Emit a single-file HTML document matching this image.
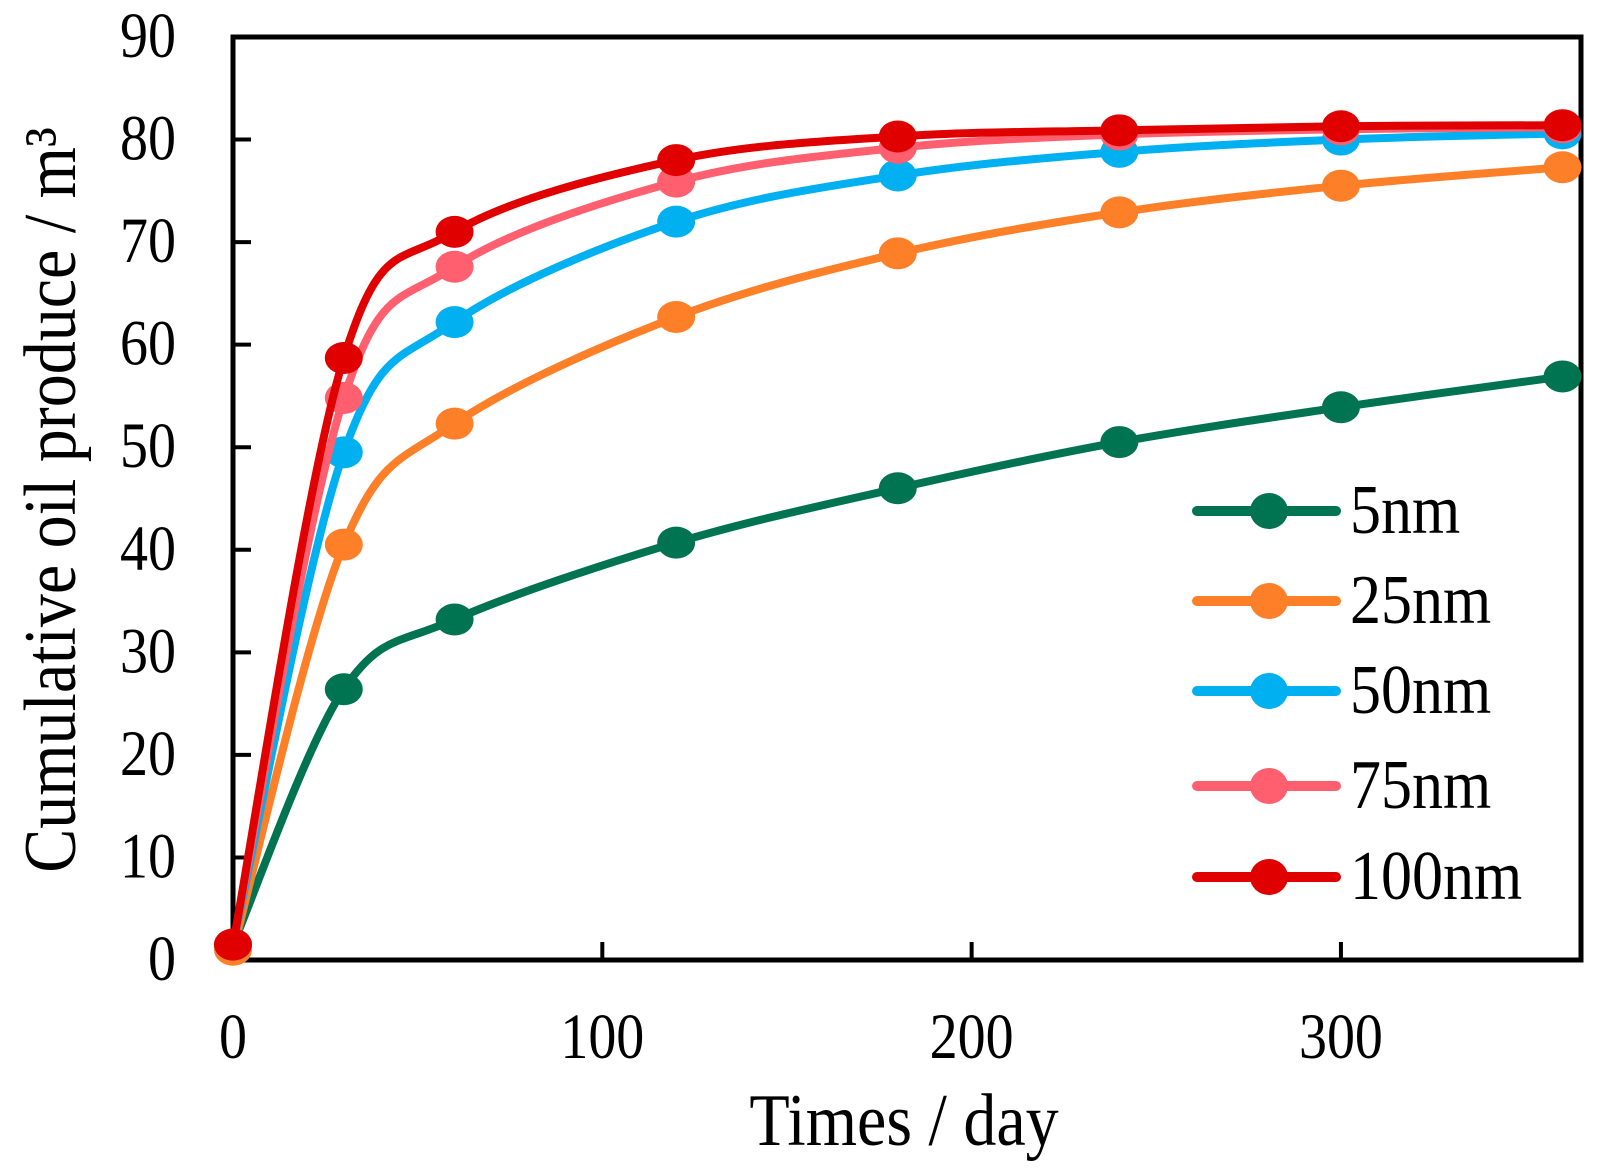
<!DOCTYPE html>
<html><head><meta charset="utf-8"><style>
html,body{margin:0;padding:0;background:#fff;}
svg{display:block;font-family:"Liberation Serif",serif;}
</style></head><body>
<svg id="chart" width="1610" height="1173" viewBox="0 0 1610 1173">
<g id="plot"></g>
</svg>
<script>
const days = [0, 30, 60, 120, 180, 240, 300, 360];
const seriesNames = ["5nm", "25nm", "50nm", "75nm", "100nm"];
const s5 = [1.5, 26.4, 33.2, 40.7, 46.0, 50.5, 53.9, 56.9];
const s25 = [1.0, 40.5, 52.3, 62.7, 68.9, 72.9, 75.5, 77.3];
const s50 = [1.5, 49.5, 62.2, 72.0, 76.5, 78.8, 80.0, 80.6];
const s75 = [1.5, 54.8, 67.6, 75.9, 79.2, 80.5, 81.0, 81.2];
const s100 = [1.5, 58.7, 71.0, 78.0, 80.3, 80.9, 81.3, 81.4];
const yTicks = [0, 10, 20, 30, 40, 50, 60, 70, 80, 90];
const xTicks = [0, 100, 200, 300];

const colors = ["#007350", "#fd7f28", "#00b0f0", "#ff5f6e", "#e00000"];
const allSeries = [s5, s25, s50, s75, s100];
const L = 233, R = 1581, T = 37, B = 960, XMAX = 365, YMAX = 90;
const xs = v => L + v / XMAX * (R - L);
const ys = v => B - v / YMAX * (B - T);
const NS = "http://www.w3.org/2000/svg";
const g = document.getElementById("plot");
function mk(tag, attrs, parent) {
  const e = document.createElementNS(NS, tag);
  for (const k in attrs) e.setAttribute(k, attrs[k]);
  (parent || g).appendChild(e);
  return e;
}
const frame = mk("rect", {x: L, y: T, width: R - L, height: B - T, fill: "none", stroke: "#000", "stroke-width": 5});


yTicks.forEach(t => {
  const y = ys(t);
  if (t > 0 && t < YMAX) {
    const tk = mk("line", {x1: L, x2: L + 18, y1: y, y2: y, stroke: "#000", "stroke-width": 4});
    
    
  }
  const lb = mk("text", {x: 0, y: 0, "text-anchor": "end", "font-size": 56, transform: "translate(176," + (y + 20) + ") scale(1,1.15)"});
  lb.textContent = t;
  
  
});
xTicks.forEach(t => {
  const x = xs(t);
  if (t > 0) {
    const tk = mk("line", {x1: x, x2: x, y1: B, y2: B - 18, stroke: "#000", "stroke-width": 4});
    
    
  }
  const lb = mk("text", {x: 0, y: 0, "text-anchor": "middle", "font-size": 56, transform: "translate(" + x + ",1058) scale(1,1.15)"});
  lb.textContent = t;
  
  
});
const xt = mk("text", {x: 0, y: 0, "text-anchor": "middle", "font-size": 66, transform: "translate(904,1145) scale(1,1.12)"});
xt.textContent = "Times / day";


const yt = mk("text", {x: 0, y: 0, "text-anchor": "middle", "font-size": 66, transform: "translate(75,500) rotate(-90) scale(1,1.12)"});
yt.textContent = "Cumulative oil produce / m³";



function pathFor(vals) {
  const p = vals.map((v, i) => [xs(days[i]), ys(v)]);
  let d = "M" + p[0][0] + "," + p[0][1];
  for (let i = 0; i < p.length - 1; i++) {
    const p0 = p[i - 1] || p[i], p1 = p[i], p2 = p[i + 1], p3 = p[i + 2] || p2;
    const k = 1 / 6;
    const c1 = [p1[0] + (p2[0] - p0[0]) * k, p1[1] + (p2[1] - p0[1]) * k];
    const c2 = [p2[0] - (p3[0] - p1[0]) * k, p2[1] - (p3[1] - p1[1]) * k];
    d += " C" + c1 + " " + c2 + " " + p2;
  }
  return d;
}
allSeries.forEach((vals, si) => {
  const grp = mk("g", {});
  
  
  const ln = mk("path", {d: pathFor(vals), fill: "none", stroke: colors[si], "stroke-width": 8, "stroke-linejoin": "round"}, grp);
  
  
  vals.forEach((v, i) => {
    const m = mk("ellipse", {cx: xs(days[i]), cy: ys(v), rx: 19, ry: 16, fill: colors[si]}, grp);
    
    
  });
});
const legY = [511, 601, 691, 786, 877];
seriesNames.forEach((n, i) => {
  const lg = mk("g", {});
  
  
  mk("line", {x1: 1197, x2: 1336, y1: legY[i], y2: legY[i], stroke: colors[i], "stroke-width": 10, "stroke-linecap": "round"}, lg);
  mk("ellipse", {cx: 1269, cy: legY[i], rx: 19, ry: 18, fill: colors[i]}, lg);
  const t = mk("text", {x: 0, y: 0, "font-size": 62, transform: "translate(1350," + (legY[i] + 22) + ") scale(1,1.12)"}, lg);
  t.textContent = n;
});
</script>
</body></html>
